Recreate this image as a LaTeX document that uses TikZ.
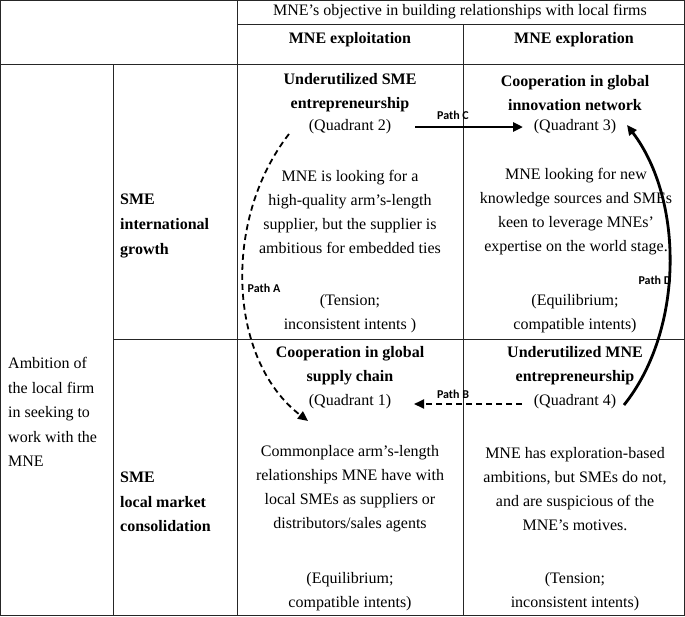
\documentclass[tikz,border=0pt]{standalone}
\usepackage{fontspec}
\setmainfont{Liberation Serif}
\newfontfamily\labfont{Carlito}
\usetikzlibrary{arrows.meta}
\begin{document}
\begin{tikzpicture}[x=1pt,y=-1pt,
  grid/.style={line width=0.8pt,draw=black!85},
  txt/.style={font=\fontsize{16}{24}\selectfont,align=center,inner sep=0pt},
  btxt/.style={font=\fontsize{16}{24}\selectfont\bfseries,align=center,inner sep=0pt},
  ltxt/.style={font=\fontsize{16}{24.4}\selectfont,align=left,inner sep=0pt,anchor=west},
  lbtxt/.style={font=\fontsize{16}{24.6}\selectfont\bfseries,align=left,inner sep=0pt,anchor=west},
  pathlab/.style={font=\labfont\fontsize{12}{14}\selectfont\bfseries,inner sep=0pt},
  tip/.style={-{Triangle[length=10pt,width=9pt]}},
  solidarrow/.style={tip,line width=2.8pt},
  dasharrow/.style={tip,line width=1.8pt,dash pattern=on 6pt off 4pt}]
\useasboundingbox (0,0) rectangle (685,616);
% grid
\draw[grid] (0.5,0.5) rectangle (684.5,615.5);
\draw[grid] (237,0.5) -- (237,615.5);
\draw[grid] (237,24) -- (684.5,24);
\draw[grid] (0.5,64) -- (684.5,64);
\draw[grid] (113,64) -- (113,615.5);
\draw[grid] (463,24) -- (463,615.5);
\draw[grid] (113,339) -- (684.5,339);
% headers
\node[txt] (hobj) at (460,12) {MNE’s objective in building relationships with local firms};
\node[btxt] (hexpl) at (350,40) {MNE exploitation};
\node[btxt] (hexpr) at (574,40) {MNE exploration};
% row labels
\node[ltxt] (amb) at (8,412) {Ambition of\\the local firm\\in seeking to\\work with the\\MNE};
\node[lbtxt] (rintl) at (120,226) {SME\\international\\growth};
\node[lbtxt] (rloc) at (120,502) {SME\\local market\\consolidation};
% quadrant 2
\node[btxt] (t2) at (350,93) {Underutilized SME\\entrepreneurship};
\node[txt] (q2) at (350,127) {(Quadrant 2)};
\node[txt] (b2) at (350,211.5) {MNE is looking for a\\high-quality arm’s-length\\supplier, but the supplier is\\ambitious for embedded ties};
\node[txt] (s2) at (350,314) {(Tension;\\inconsistent intents )};
% quadrant 3
\node[btxt] (t3) at (575,93) {Cooperation in global\\innovation network};
\node[txt] (q3) at (575,127) {(Quadrant 3)};
\node[txt] (b3) at (576,211.5) {MNE looking for new\\knowledge sources and SMEs\\keen to leverage MNEs’\\expertise on the world stage.};
\node[txt] (s3) at (575,314) {(Equilibrium;\\compatible intents)};
% quadrant 1
\node[btxt] (t1) at (350,366) {Cooperation in global\\supply chain};
\node[txt] (q1) at (350,402) {(Quadrant 1)};
\node[txt] (b1) at (350,489) {Commonplace arm’s-length\\relationships MNE have with\\local SMEs as suppliers or\\distributors/sales agents};
\node[txt] (s1) at (350,592) {(Equilibrium;\\compatible intents)};
% quadrant 4
\node[btxt] (t4) at (575,366) {Underutilized MNE\\entrepreneurship};
\node[txt] (q4) at (575,402) {(Quadrant 4)};
\node[txt] (b4) at (575,489) {MNE has exploration-based\\ambitions, but SMEs do not,\\and are suspicious of the\\MNE’s motives.};
\node[txt] (s4) at (575,592) {(Tension;\\inconsistent intents)};
% paths
\coordinate (cstart) at (415,127);
\coordinate (cend) at (523,127);
\draw[solidarrow] (cstart) -- (cend);
\node[pathlab] (pc) at (453,115) {Path C};
\coordinate (bstart) at (522,404);
\coordinate (bend) at (414,404);
\draw[dasharrow] (bstart) -- (bend);
\node[pathlab] (pb) at (453,394) {Path B};
\coordinate (astart) at (289,134);
\coordinate (aend) at (308,421);
\draw[dasharrow] (astart) .. controls (222,220) and (228,360) .. (aend);
\node[pathlab] (pa) at (264,288) {Path A};
\coordinate (dstart) at (624,405);
\coordinate (dend) at (627,125);
\draw[solidarrow] (dstart) .. controls (684,330) and (684,200) .. (dend);
\node[pathlab] (pd) at (655,280) {Path D};
\end{tikzpicture}
\end{document}
